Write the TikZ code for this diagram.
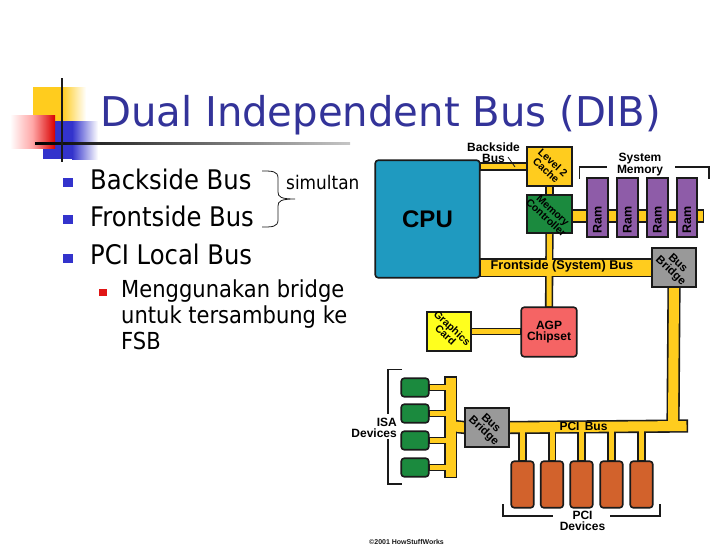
\documentclass[tikz,border=0pt]{standalone}
\usepackage{fontspec}
\setmainfont[FakeStretch=0.9]{DejaVu Sans}
\newfontfamily\titlefont[FakeStretch=0.98]{DejaVu Sans}
\newfontfamily\diafont{Liberation Sans}
\usetikzlibrary{backgrounds}
\pgfdeclarelayer{blk}\pgfdeclarelayer{ylw}\pgfsetlayers{blk,ylw,main}
\definecolor{titleblue}{HTML}{333399}
\definecolor{bulblue}{HTML}{3333CC}
\definecolor{bulred}{HTML}{E01515}
\definecolor{busy}{HTML}{FFCC1E}
\definecolor{cpuc}{HTML}{1F9AC0}
\definecolor{grn}{HTML}{1B8A3E}
\definecolor{ramc}{HTML}{8E5CA8}
\definecolor{brg}{HTML}{999999}
\definecolor{agpc}{HTML}{F56464}
\definecolor{gfxc}{HTML}{FFFF1E}
\definecolor{pcic}{HTML}{D2622C}
\definecolor{outl}{HTML}{1A1A1A}
\newcommand{\busline}[2]{%
  \begin{pgfonlayer}{blk}\draw[line width=#1+3.2pt,outl,shorten <=-1.6pt,shorten >=-1.6pt] #2;\end{pgfonlayer}%
  \begin{pgfonlayer}{ylw}\draw[line width=#1,busy] #2;\end{pgfonlayer}}
\tikzset{
  box/.style={draw=outl,line width=1.6pt,inner sep=0pt,align=center},
  rbox/.style={box,rounded corners=3pt},
  lbl/.style={inner sep=0pt,align=center,text=black,font=\diafont\bfseries\fontsize{12}{10.5}\selectfont},
  rotlbl/.style={lbl,rotate=-43,font=\diafont\bfseries\fontsize{10.5}{10}\selectfont},
  bullet/.style={inner sep=0pt,minimum size=9.5pt,fill=bulblue},
  txtl/.style={inner sep=0pt,anchor=base west,font=\fontsize{27}{27}\selectfont,text=black},
  subl/.style={inner sep=0pt,anchor=base west,font=\fontsize{23.4}{26}\selectfont,text=black,align=left},
  bracket/.style={draw=outl,line width=1.1pt},
  card/.style={rbox,fill=pcic,minimum width=22.5pt,minimum height=46.5pt},
  isa/.style={rbox,fill=grn,minimum width=27.5pt,minimum height=18.5pt},
  ram/.style={box,fill=ramc,minimum width=20.5pt,minimum height=58.5pt},
  bridge/.style={box,fill=brg,minimum width=43.5pt,minimum height=38.5pt},
}
\begin{document}
\begin{tikzpicture}[x=1pt,y=-1pt]
\useasboundingbox (0,0) rectangle (728,546);
% logo
\fill[busy] (33,87) rectangle (62,125);
\shade[left color=busy,right color=white] (62,87) rectangle (86,125);
\fill[bulblue] (43,121) rectangle (72,159);
\shade[left color=bulblue,right color=white] (72,121) rectangle (98,159);
\shade[left color=white,right color=red!85!black,middle color=red!35] (10,115) rectangle (55,148);
\shade[left color=black,right color=gray!45] (35,142) rectangle (350,144);
\fill[outl] (61,78) rectangle (63,162);
% title and text
\node[inner sep=0pt,anchor=base west,text=titleblue,font=\titlefont\fontsize{41}{41}\selectfont] (title) at (100,126) {Dual Independent Bus (DIB)};
\node[bullet] (b1) at (68,182.5) {};
\node[bullet] (b2) at (68,219.5) {};
\node[bullet] (b3) at (68,258.5) {};
\node[inner sep=0pt,minimum size=7.5pt,fill=bulred] (b4) at (103,292.5) {};
\node[txtl] (t1) at (90,189) {Backside Bus};
\node[txtl] (t2) at (90,226) {Frontside Bus};
\node[txtl] (t3) at (90,264) {PCI Local Bus};
\node[subl] (t4) at (121,349) {Menggunakan bridge\\untuk tersambung ke\\FSB};
\node[inner sep=0pt,anchor=base west,font=\fontsize{18.8}{18.8}\selectfont] (sim) at (286,189.5) {simultan};
\draw[outl,line width=.8pt] (262,171) .. controls (272,171) and (278,171) .. (278,178) -- (278,192) .. controls (278,197) and (281,199) .. (295,199)
  (295,199) .. controls (281,199) and (278,201) .. (278,206) -- (278,220) .. controls (278,227) and (272,227) .. (262,227);
% nodes of the diagram
\node[rbox,fill=cpuc,minimum width=104.5pt,minimum height=117.5pt] (cpu) at (427.5,219) {};
\node[lbl,font=\diafont\bfseries\fontsize{24}{24}\selectfont] (cpul) at (cpu) {CPU};
\node[box,fill=busy,minimum width=44.5pt,minimum height=38.5pt] (l2) at (549.5,166.5) {};
\node[rotlbl] (l2l) at (l2) {Level 2\\Cache};
\node[box,fill=grn,minimum width=44.5pt,minimum height=37.5pt] (mc) at (549.5,214) {};
\node[rotlbl] (mcl) at (mc) {Memory\\Controller};
\node[ram] (r1) at (597.5,207.5) {};
\node[ram] (r2) at (627.5,207.5) {};
\node[ram] (r3) at (657.5,207.5) {};
\node[ram] (r4) at (687,207.5) {};
\foreach \r in {r1,r2,r3,r4}{\node[lbl,rotate=90,font=\diafont\bfseries\fontsize{12.5}{12.5}\selectfont] (\r l) at ([yshift=-12.5pt]\r.center) {Ram};}
\node[bridge] (br1) at (674,267.5) {};
\node[rotlbl,font=\diafont\bfseries\fontsize{11.5}{10.5}\selectfont] (br1l) at (br1) {Bus\\Bridge};
\node[rbox,fill=agpc,minimum width=55.5pt,minimum height=49.5pt] (agp) at (549,332) {};
\node[lbl] (agpl) at (agp) {AGP\\Chipset};
\node[box,fill=gfxc,minimum width=43.5pt,minimum height=38.5pt] (gfx) at (449,331.5) {};
\node[rotlbl] (gfxl) at (gfx) {Graphics\\Card};
\node[bridge] (br2) at (487,427.5) {};
\node[rotlbl,font=\diafont\bfseries\fontsize{11.5}{10.5}\selectfont] (br2l) at (br2) {Bus\\Bridge};
\node[isa] (i1) at (415,387.5) {};
\node[isa] (i2) at (415,413.5) {};
\node[isa] (i3) at (415,440.5) {};
\node[isa] (i4) at (415,467.5) {};
\node[card] (c1) at (522.5,484.5) {};
\node[card] (c2) at (552,484.5) {};
\node[card] (c3) at (581.5,484.5) {};
\node[card] (c4) at (611.5,484.5) {};
\node[card] (c5) at (641.5,484.5) {};
% free ends
\coordinate (memend) at (702.5,216);
\coordinate (pciend) at (686.5,426);
\coordinate (pcijoin) at (673,426);
\coordinate (isatop) at (450.5,378);
\coordinate (isabot) at (450.5,476.5);
\coordinate (isajoin) at (450.5,426);
% buses
\busline{5.5pt}{(cpu.east |- 0,166.5) -- (l2.west |- 0,166.5)}
\busline{5pt}{(l2.south) -- (mc.north)}
\busline{5pt}{(mc.south) -- (agp.north)}
\busline{16pt}{(cpu.east |- br1.west) -- (br1.west)}
\busline{10pt}{(mc.east |- memend) -- (memend)}
\busline{10pt}{(br1.south) -- (pcijoin)}
\busline{10pt}{(br2.east) -- (pciend)}
\busline{4.5pt}{(gfx.east) -- (agp.west |- gfx.east)}
\busline{10pt}{(isatop) -- (isabot)}
\busline{10pt}{(isajoin) -- (br2.west)}
\foreach \i in {i1,i2,i3,i4}{\busline{4.5pt}{(\i.east) -- (isajoin |- \i.east)}}
\foreach \c in {c1,c2,c3,c4,c5}{\busline{5pt}{(\c.north) -- (\c.north |- pciend)}}
% bus labels
\node[lbl,font=\diafont\bfseries\fontsize{12.7}{13}\selectfont] (fsbl) at (562,266.5) {Frontside (System) Bus};
\node[lbl,font=\diafont\bfseries\fontsize{12}{12}\selectfont] (pcil) at (583.5,426.5) {PCI\, Bus};
\node[lbl,anchor=base] (bsl) at (493.5,162) {Backside\\Bus};
\coordinate (lead1) at (508,157);
\coordinate (lead2) at (515,167);
\draw[outl,line width=.8pt] (lead1) -- (lead2);
\node[lbl,anchor=base] (sml) at (640,173) {System\\Memory};
\node[lbl,anchor=base east,align=right] (isal) at (397,437) {ISA\\Devices};
\node[lbl,anchor=base] (pdl) at (582.5,530) {PCI\\Devices};
\node[inner sep=0pt,anchor=base west,text=outl,font=\diafont\bfseries\fontsize{7}{7}\selectfont] (copy) at (369,544) {©2001 HowStuffWorks};
% brackets
\draw[bracket] (579.5,179) -- (579.5,167) -- (607,167) (675,167) -- (709,167) -- (709,179);
\draw[bracket] (402,369.5) -- (388,369.5) -- (388,414) (388,439) -- (388,484) -- (402,484);
\draw[bracket] (503,504) -- (503,516) -- (553,516) (610,516) -- (660,516) -- (660,504);
\end{tikzpicture}
\end{document}
